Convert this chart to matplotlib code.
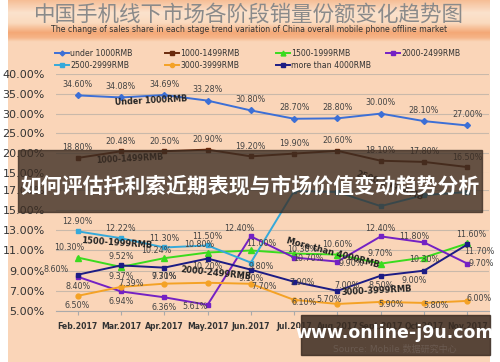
import numpy as np
import matplotlib
matplotlib.use("Agg")
import matplotlib.pyplot as plt
from matplotlib.patches import Rectangle

plt.rcParams['font.family'] = ['DejaVu Sans', 'Noto Sans CJK SC']

months = ['Feb.2017', 'Mar.2017', 'Apr.2017', 'May.2017', 'Jun.2017',
          'Jul.2017', 'Aug.2017', 'Sept.2017', 'Oct.2017', 'Nov.2017']

# shares in %
under_1000 = [34.60, 34.08, 34.69, 33.28, 30.80, 28.70, 28.80, 30.00, 28.10, 27.00]
r1000_1499 = [18.80, 20.48, 20.50, 20.90, 19.20, 19.90, 20.60, 18.10, 17.80, 16.50]
r1500_1999 = [10.30, 9.37, 10.24, 10.80, 11.00, 10.70, 10.60, 9.70, 10.30, 11.70]
r2000_2499 = [8.40, 6.94, 6.36, 5.61, 12.40, 10.30, 9.90, 12.40, 11.80, 9.70]
r2500_2999 = [12.90, 12.22, 11.30, 11.50, 9.80, 16.90, 16.80, 15.40, 16.50, 16.80]
r3000_3999 = [6.50, 7.39, 7.71, 7.80, 7.70, 6.10, 5.70, 5.90, 5.80, 6.00]
over_4000 = [8.60, 9.52, 9.30, 10.20, 9.10, 7.90, 7.00, 8.50, 9.00, 11.60]

W, H = 500, 362
fig = plt.figure(figsize=(5, 3.62), dpi=100)
fig.patch.set_facecolor('white')

def fx(x):
    return x / W

def fy(y):
    return 1 - y / H

# background
bg = fig.add_axes([fx(8), 0, fx(482), 1])
bg.set_xlim(0, 1); bg.set_ylim(0, 1); bg.axis('off')
bg.add_patch(Rectangle((0, 0), 1, 1, color='#FAD5B8'))
grad = fig.add_axes([fx(8), fy(42), fx(482), 42 / H])
stops = np.array([[246, 190, 150], [251, 226, 205], [250, 218, 190],
                  [244, 168, 118], [246, 180, 135], [250, 213, 184]]) / 255
pos = np.array([0, 0.3, 0.55, 0.78, 0.9, 1.0])
yy = np.linspace(0, 1, 60)
col = np.stack([np.interp(yy, pos, stops[:, k]) for k in range(3)], axis=1)
grad.imshow(col[:, None, :], aspect='auto', extent=(0, 1, 1, 0))
grad.axis('off')

fig.text(fx(249), fy(15), '中国手机线下市场各阶段销量份额变化趋势图', ha='center', va='center',
         fontsize=15.5, color='#8A8A8A', fontweight='light',
         family=['Noto Sans CJK SC', 'DejaVu Sans'])
fig.text(fx(249), fy(29), 'The change of sales share in each stage trend variation of China overall mobile phone offline market',
         ha='center', va='center', fontsize=5.6, color='#333333')

series = [
    ('under 1000RMB', under_1000, '#3C6FD6', 'D', 3),
    ('1000-1499RMB', r1000_1499, '#6A2A0C', 's', 3.5),
    ('1500-1999RMB', r1500_1999, '#3ADB1E', '^', 4),
    ('2000-2499RMB', r2000_2499, '#7421C4', 's', 3.5),
    ('2500-2999RMB', r2500_2999, '#35A9DA', 's', 3.5),
    ('3000-3999RMB', r3000_3999, '#F4A226', 'o', 3.5),
    ('more than 4000RMB', over_4000, '#1C1C84', 's', 3.5),
]

# label offsets (px) per series
offs = {
    'under 1000RMB': [(0, 11)] * 10,
    '1000-1499RMB': [(0, 10)] * 10,
    '1500-1999RMB': [(-8, 10), (0, -10), (-8, 8), (-8, 8), (10, 7), (14, -5), (0, 10), (0, 10), (0, -2), (12, -8)],
    '2000-2499RMB': [(0, -10), (0, -10), (0, -10), (-12, -2), (-12, 8), (8, 8), (14, -2), (0, 8), (-10, 6), (14, 0)],
    '2500-2999RMB': [(0, 10), (0, 10), (0, 9), (0, 9), (10, -4), None, None, None, None, None],
    '3000-3999RMB': [(0, -10), (10, 3), (0, 7), None, (13, -3), (10, -3), (-8, 4), (10, -3), (12, -3), (12, 2)],
    'more than 4000RMB': [(-22, 5), (0, 9), (0, -9), (0, -8), (0, -9), (8, -1), (10, 5), (0, -10), (-10, -10), (4, 10)],
}

x = np.arange(len(months))
ax_top = fig.add_axes([fx(56), fy(173), fx(433), (173 - 74) / H])
ax_bot = fig.add_axes([fx(56), fy(311), fx(433), (311 - 190) / H])
ax_top.set_ylim(15, 40)
ax_bot.set_ylim(5, 17)
ax_top.set_yticks([15, 20, 25, 30, 35, 40])
ax_bot.set_yticks([5, 7, 9, 11, 13, 15, 17])
for ax in (ax_top, ax_bot):
    ax.set_facecolor('none')
    ax.set_xlim(-0.5, 9.5)
    for s in ax.spines.values():
        s.set_visible(False)
    ax.grid(axis='y', color='#C9B9AA', lw=0.8)
    ax.set_axisbelow(True)
    ax.yaxis.set_major_formatter(matplotlib.ticker.FuncFormatter(lambda v, p: '%.2f%%' % v))
    ax.tick_params(axis='y', length=0, labelsize=8, labelcolor='#333333', pad=8)
ax_top.set_xticks([])
ax_bot.set_xticks(x)
ax_bot.set_xticklabels(months, fontsize=5.6, color='#333333', fontweight='bold')
ax_bot.tick_params(axis='x', length=3, color='#AAAAAA', pad=5)
ax_bot.spines['bottom'].set_visible(True)
ax_bot.spines['bottom'].set_color('#AAAAAA')

for name, vals, c, m, ms in series:
    ax = ax_top if vals[0] > 15 else ax_bot
    ax.plot(x, vals, color=c, marker=m, ms=ms, lw=1.4, clip_on=True)
    for i, v in enumerate(vals):
        o = offs[name][i]
        if o is None:
            continue
        ax.annotate('%.2f%%' % v, (x[i], v), xytext=(o[0] * 0.72, o[1] * 0.72),
                    textcoords='offset points', ha='center', va='center',
                    fontsize=5.8, color='#444444', annotation_clip=False)

# line name tags
ax_top.text(1.7, 32.2, 'Under 1000RMB', fontsize=5.8, fontweight='bold', rotation=3, ha='center', color='#222222')
ax_top.text(1.2, 17.6, '1000-1499RMB', fontsize=5.8, fontweight='bold', rotation=3, ha='center', color='#222222')
ax_bot.text(0.9, 11.25, '1500-1999RMB', fontsize=6, fontweight='bold', rotation=-4, ha='center', color='#222222')
ax_bot.text(3.2, 8.1, '2000-2499RMB', fontsize=6, fontweight='bold', rotation=-6, ha='center', color='#222222')
ax_bot.text(5.9, 9.3, 'More than 4000RMB', fontsize=6, fontweight='bold', rotation=-15, ha='center', color='#222222')
ax_bot.text(6.9, 6.6, '3000-3999RMB', fontsize=6, fontweight='bold', rotation=3, ha='center', color='#222222')
ax_bot.text(7.2, 16.0, '2500-2999RMB', fontsize=6, fontweight='bold', rotation=-20, ha='center', color='#222222')

# legend
leg = [(55, 53), (165, 53), (276, 53), (386, 53), (55, 65), (165, 65), (276, 65)]
for (px, py), (name, vals, c, m, ms) in zip(leg, series):
    fig.lines.append(plt.Line2D([fx(px), fx(px + 14)], [fy(py), fy(py)], color=c, lw=1.4,
                                transform=fig.transFigure))
    fig.lines.append(plt.Line2D([fx(px + 7)], [fy(py)], color=c, marker=m, ms=ms - 0.5,
                                transform=fig.transFigure))
    fig.text(fx(px + 15), fy(py), name, fontsize=5.6, va='center', color='#333333')

# overlay band
fig.patches.append(Rectangle((fx(18), fy(212)), fx(464), (212 - 150) / H, transform=fig.transFigure,
                             color='#3B2C22', alpha=0.78, zorder=5))
fig.text(fx(250), fy(186), '如何评估托利索近期表现与市场价值变动趋势分析', ha='center', va='center',
         fontsize=15, fontweight='bold', color='white', zorder=6,
         family=['Noto Sans CJK SC', 'DejaVu Sans'])

# watermark box
fig.patches.append(Rectangle((fx(301), fy(355)), fx(189), (355 - 315) / H, transform=fig.transFigure,
                             color='#3B2C22', alpha=0.85, zorder=5))
fig.text(fx(395), fy(333), 'www.online-j9u.com', ha='center', va='center', fontsize=12.5,
         fontweight='bold', color='white', zorder=6)
fig.text(fx(395), fy(349), 'Source: Mobile 数据研究中心', ha='center', va='center', fontsize=6.5,
         color='#6A5A50', zorder=6, family=['DejaVu Sans', 'Noto Sans CJK SC'])

fig.savefig('out.png', dpi=100)
